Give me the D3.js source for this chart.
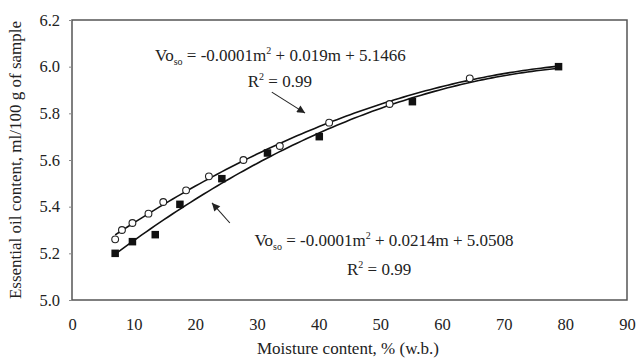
<!DOCTYPE html>
<html>
<head>
<meta charset="utf-8">
<script src="https://cdn.jsdelivr.net/npm/d3@7"></script>
<style>
  html, body { margin: 0; padding: 0; background: #fff; }
  svg { display: block; }
  text { font-family: "Liberation Serif", "Times New Roman", serif; fill: #222; }
</style>
</head>
<body>
<svg id="chart" width="636" height="358"></svg>
<script>
// ---- Data ----
const circleMoisture = [7.0, 8.1, 9.8, 12.4, 14.8, 18.5, 22.2, 27.8, 33.7, 41.7, 51.5, 64.5];
const circleOil      = [5.26, 5.30, 5.33, 5.37, 5.42, 5.47, 5.53, 5.60, 5.66, 5.76, 5.84, 5.95];
const squareMoisture = [7.0, 9.8, 13.5, 17.5, 24.3, 31.7, 40.1, 55.2, 78.9];
const squareOil      = [5.20, 5.25, 5.28, 5.41, 5.52, 5.63, 5.70, 5.85, 6.00];
const xTicks = [0, 10, 20, 30, 40, 50, 60, 70, 80, 90];
const yTicks = [5.0, 5.2, 5.4, 5.6, 5.8, 6.0, 6.2];
const xTitle = "Moisture content, % (w.b.)";
const yTitle = "Essential oil content, ml/100 g of sample";
const eqUpper = ["-0.0001m", "2", " + 0.019m + 5.1466"];
const eqLower = ["-0.0001m", "2", " + 0.0214m + 5.0508"];
const r2Text = "0.99";

// ---- Layout ----
const svg = d3.select("#chart");
const margin = { left: 72, right: 9, top: 20, bottom: 58 };
const W = 636, H = 358;
const x = d3.scaleLinear().domain([0, 90]).range([margin.left, W - margin.right]);
const y = d3.scaleLinear().domain([5.0, 6.2]).range([H - margin.bottom, margin.top]);

// frame
svg.append("rect")
  .attr("x", x(0)).attr("y", y(6.2))
  .attr("width", x(90) - x(0)).attr("height", y(5.0) - y(6.2))
  .attr("fill", "none").attr("stroke", "#555").attr("stroke-width", 1.5);

// axes
const xAxis = svg.append("g").attr("transform", `translate(0,${y(5.0)})`)
  .call(d3.axisBottom(x).tickValues(xTicks).tickSize(0).tickPadding(18).tickFormat(d3.format("d")));
const yAxis = svg.append("g").attr("transform", `translate(${x(0)},0)`)
  .call(d3.axisLeft(y).tickValues(yTicks).tickSize(3).tickPadding(9).tickFormat(d3.format(".1f")));
[xAxis, yAxis].forEach(g => {
  g.select(".domain").remove();
  g.selectAll("text").style("font-size", "16.5px").attr("fill", "#222")
    .style("font-family", '"Liberation Serif", serif');
  g.selectAll("line").attr("stroke", "#888");
});

// titles
svg.append("text").attr("x", 348).attr("y", 354)
  .attr("text-anchor", "middle").style("font-size", "17px").text(xTitle);
svg.append("text").attr("transform", `translate(21,${(y(5.0) + y(6.2)) / 2}) rotate(-90)`)
  .attr("text-anchor", "middle").style("font-size", "17px").text(yTitle);

// quadratic least-squares fit (as the trendlines in the source)
function quadFit(xs, ys) {
  const n = xs.length;
  let s = [0, 0, 0, 0, 0], t = [0, 0, 0];
  for (let i = 0; i < n; i++) {
    const xi = xs[i], yi = ys[i];
    for (let k = 0; k < 5; k++) s[k] += Math.pow(xi, k);
    for (let k = 0; k < 3; k++) t[k] += yi * Math.pow(xi, k);
  }
  const A = [[s[0], s[1], s[2], t[0]], [s[1], s[2], s[3], t[1]], [s[2], s[3], s[4], t[2]]];
  for (let c = 0; c < 3; c++) {
    for (let r = c + 1; r < 3; r++) {
      const f = A[r][c] / A[c][c];
      for (let k = c; k < 4; k++) A[r][k] -= f * A[c][k];
    }
  }
  const b = [0, 0, 0];
  for (let r = 2; r >= 0; r--) {
    let v = A[r][3];
    for (let k = r + 1; k < 3; k++) v -= A[r][k] * b[k];
    b[r] = v / A[r][r];
  }
  return m => b[0] + b[1] * m + b[2] * m * m;
}
const fitC = quadFit(circleMoisture, circleOil);
const fitS = quadFit(squareMoisture, squareOil);
const m0 = Math.min(d3.min(circleMoisture), d3.min(squareMoisture));
const m1 = Math.max(d3.max(circleMoisture), d3.max(squareMoisture));
const ms = d3.range(0, 101).map(i => m0 + (m1 - m0) * i / 100);
const line = d3.line().x(d => x(d[0])).y(d => y(d[1]));
[fitC, fitS].forEach(f => {
  svg.append("path").datum(ms.map(m => [m, f(m)]))
    .attr("d", line).attr("fill", "none").attr("stroke", "#111").attr("stroke-width", 1.6);
});

// markers
const circles = circleMoisture.map((m, i) => [m, circleOil[i]]);
const squares = squareMoisture.map((m, i) => [m, squareOil[i]]);
svg.append("g").selectAll("circle").data(circles).join("circle")
  .attr("cx", d => x(d[0])).attr("cy", d => y(d[1])).attr("r", 3.4)
  .attr("fill", "#fff").attr("stroke", "#222").attr("stroke-width", 1.1);
const sq = 7.5;
svg.append("g").selectAll("rect").data(squares).join("rect")
  .attr("x", d => x(d[0]) - sq / 2).attr("y", d => y(d[1]) - sq / 2)
  .attr("width", sq).attr("height", sq).attr("fill", "#111");

// arrows
svg.append("defs").append("marker").attr("id", "ah")
  .attr("viewBox", "0 0 10 10").attr("refX", 10).attr("refY", 5)
  .attr("markerWidth", 10).attr("markerHeight", 8).attr("markerUnits", "userSpaceOnUse")
  .attr("orient", "auto")
  .append("path").attr("d", "M0,0 L10,5 L0,10 Z").attr("fill", "#222");
const arrows = [
  { from: [32.4, 5.891], to: [37.8, 5.801] },
  { from: [25.6, 5.330], to: [22.7, 5.416] }
];
arrows.forEach(a => {
  svg.append("line")
    .attr("x1", x(a.from[0])).attr("y1", y(a.from[1]))
    .attr("x2", x(a.to[0])).attr("y2", y(a.to[1]))
    .attr("stroke", "#222").attr("stroke-width", 1.1).attr("marker-end", "url(#ah)");
});

// equations
function equation(cx, cy, parts) {
  const t = svg.append("text").attr("x", x(cx)).attr("y", y(cy))
    .attr("text-anchor", "middle").style("font-size", "17px");
  t.append("tspan").text("Vo");
  t.append("tspan").text("so").style("font-size", "10px").attr("dy", 4);
  t.append("tspan").text(" = " + parts[0]).attr("dy", -4);
  t.append("tspan").text(parts[1]).style("font-size", "10px").attr("dy", -7);
  t.append("tspan").text(parts[2]).attr("dy", 7);
}
function r2(cx, cy) {
  const t = svg.append("text").attr("x", x(cx)).attr("y", y(cy))
    .attr("text-anchor", "middle").style("font-size", "17px");
  t.append("tspan").text("R");
  t.append("tspan").text("2").style("font-size", "10px").attr("dy", -7);
  t.append("tspan").text(" = " + r2Text).attr("dy", 7);
}
equation(33.8, 6.024, eqUpper);
r2(33.7, 5.913);
equation(50.6, 5.231, eqLower);
r2(49.8, 5.107);
</script>
</body>
</html>
